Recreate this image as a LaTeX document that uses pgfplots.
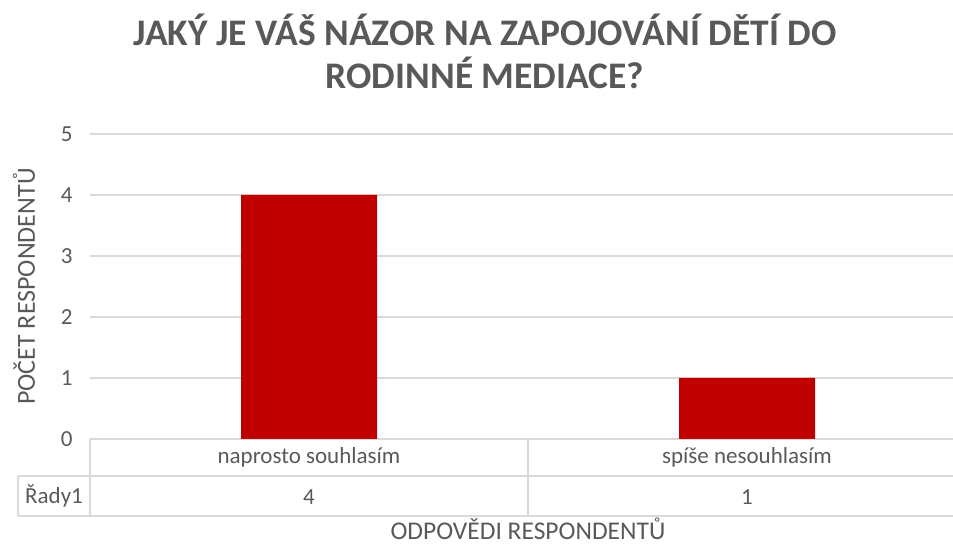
\documentclass[border=0pt]{standalone}
\usepackage{fontspec}
\setmainfont{Carlito}
\usepackage{pgfplots}
\pgfplotsset{compat=1.18}
\definecolor{barred}{HTML}{C00000}
\definecolor{txtgray}{HTML}{595959}
\definecolor{gridgray}{HTML}{D9D9D9}
\begin{document}
\begin{tikzpicture}
  \begin{axis}[
    at={(0pt,0pt)}, anchor=south west,
    scale only axis, width=876pt, height=305pt,
    xmin=-0.5, xmax=1.5, ymin=0, ymax=5,
    ytick={0,1,2,3,4,5},
    xtick={0,1},
    xticklabels={naprosto souhlasím, spíše nesouhlasím},
    extra x ticks={0,1},
    extra x tick labels={4,1},
    extra x tick style={xticklabel style={yshift=-40pt}},
    major tick length=0pt,
    axis line style={draw=none},
    ymajorgrids, grid style={gridgray, line width=1.3pt},
    /pgf/number format/assume math mode=true,
    tick label style={font=\fontsize{23}{23}\selectfont, text=txtgray},
    yticklabel style={anchor=east, xshift=-14pt},
    xticklabel style={anchor=center, yshift=-18.5pt},
    ylabel={POČET RESPONDENTŮ},
    every axis y label/.style={at={(axis description cs:-0.0753,0.5)}, rotate=90, anchor=center,
      font=\fontsize{26}{26}\selectfont, text=txtgray},
    xlabel={ODPOVĚDI RESPONDENTŮ},
    every axis x label/.style={at={(axis description cs:0.5,-0.296)}, anchor=center, inner sep=0pt,
      font=\fontsize{25.5}{25.5}\selectfont, text=txtgray},
    title={JAKÝ JE VÁŠ NÁZOR NA ZAPOJOVÁNÍ DĚTÍ DO\\RODINNÉ MEDIACE?},
    title style={at={(axis description cs:0.451,1.25)}, anchor=center, align=center,
      font=\fontsize{37.5}{43}\selectfont\bfseries, text=txtgray},
    ybar, bar width=136pt, bar shift=0pt,
  ]
    \addplot[fill=barred, draw=none] coordinates {(0,4) (1,1)};
  \end{axis}
  % data table below the plot area
  \draw[gridgray, line width=1.3pt]
    (-72pt,-37pt) -- (876pt,-37pt)
    (-72pt,-77pt) -- (876pt,-77pt)
    (-72pt,-37pt) -- (-72pt,-77pt)
    (0pt,0pt) -- (0pt,-77pt)
    (438pt,0pt) -- (438pt,-77pt)
    (876pt,0pt) -- (876pt,-77pt);
  \node[anchor=center, text=txtgray, font=\fontsize{23}{23}\selectfont] at (-36pt,-57pt) {Řady1};
  \pgfresetboundingbox
  \useasboundingbox (-90pt,-106pt) rectangle (863pt,439pt);
\end{tikzpicture}
\end{document}
